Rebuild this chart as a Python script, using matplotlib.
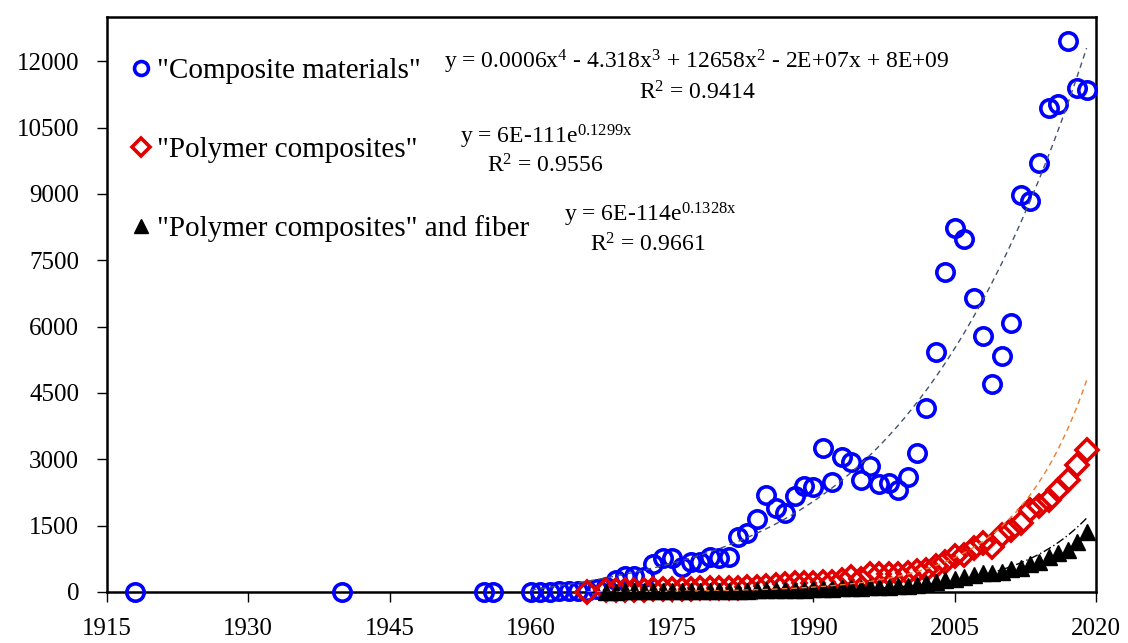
import matplotlib
matplotlib.use("Agg")
import matplotlib.pyplot as plt
import numpy as np

# data (publications per year)
cm_years = [1918, 1940, 1955, 1956] + list(range(1960, 2020))
cm_values = [
    2, 2, 3, 3,
    5, 8, 10, 12, 15, 20, 30, 60, 120, 270,            # 1960-1969
    365, 370, 345, 640, 780, 775, 575, 670, 670, 800,  # 1970-1979
    770, 790, 1250, 1340, 1640, 2195, 1910, 1785, 2170, 2400,  # 1980-1989
    2385, 3250, 2480, 3050, 2950, 2530, 2860, 2440, 2470, 2300,  # 1990-1999
    2600, 3150, 4155, 5420, 7225, 8240, 7980, 6645, 5780, 4705,  # 2000-2009
    5345, 6085, 8980, 8845, 9705, 10950, 11025, 12450, 11400, 11350,  # 2010-2019
]

pc_years = [1966] + list(range(1968, 2020))
pc_values = [
    10,
    40, 45,                                              # 1968-1969
    50, 55, 55, 60, 60, 65, 70, 75, 80, 85,              # 1970-1979
    90, 95, 100, 110, 120, 135, 150, 175, 195, 210,      # 1980-1989
    210, 230, 235, 270, 345, 285, 405, 405, 405, 400,    # 1990-1999
    420, 475, 495, 585, 685, 810, 835, 985, 1100, 1020,  # 2000-2009
    1285, 1400, 1550, 1850, 1940, 2090, 2300, 2525, 2880, 3220,  # 2010-2019
]

pf_years = list(range(1968, 2020))
pf_values = [
    8, 10,                                               # 1968-1969
    12, 13, 14, 15, 16, 18, 19, 20, 22, 24,              # 1970-1979
    26, 28, 30, 33, 36, 40, 44, 48, 52, 56,              # 1980-1989
    60, 66, 72, 80, 88, 95, 105, 110, 118, 125,          # 1990-1999
    140, 158, 196, 232, 270, 293, 346, 384, 421, 421,    # 2000-2009
    458, 512, 534, 632, 684, 797, 872, 947, 1135, 1360,  # 2010-2019
]

labels = ['"Composite materials"', '"Polymer composites"', '"Polymer composites" and fiber']

# exponential trendline coefficients as printed on the chart
pc_exp = (6e-111, 0.1299)
pf_exp = (6e-114, 0.1328)

W, H = 1128.0, 643.0
SERIF = "Liberation Serif"
plt.rcParams["font.family"] = [SERIF, "DejaVu Serif"]
plt.rcParams["mathtext.fontset"] = "custom"
plt.rcParams["mathtext.rm"] = SERIF
plt.rcParams["mathtext.it"] = SERIF + ":italic"

fig = plt.figure(figsize=(W / 100, H / 100), dpi=100)
ax = fig.add_axes([107 / W, 1 - 592 / H, 989 / W, 575 / H])

ax.plot(cm_years, cm_values, linestyle="None", marker="o", markersize=12.5,
        markerfacecolor="none", markeredgecolor="#0000FF", markeredgewidth=2.6,
        clip_on=False, zorder=3, label=labels[0])
ax.plot(pc_years, pc_values, linestyle="None", marker="D", markersize=11,
        markerfacecolor="none", markeredgecolor="#E00000", markeredgewidth=2.6,
        clip_on=False, zorder=4, label=labels[1])
ax.plot(pf_years, pf_values, linestyle="None", marker="^", markersize=11,
        color="black", clip_on=False, zorder=5, label=labels[2])

# polynomial trend for composite materials, fitted from the data
xc = np.array(cm_years, dtype=float)
coef = np.polyfit(xc - 1990, np.array(cm_values, dtype=float), 4)
xt = np.linspace(1960, 2019, 300)
ax.plot(xt, np.polyval(coef, xt - 1990), linestyle=(0, (4, 3)), color="#44546A",
        lw=1.0, zorder=6)

xt = np.linspace(1966, 2019, 300)
ax.plot(xt, pc_exp[0] * np.exp(pc_exp[1] * xt), linestyle=(0, (4, 3)),
        color="#ED7D31", lw=1.0, zorder=6)
xt = np.linspace(1968, 2019, 300)
ax.plot(xt, pf_exp[0] * np.exp(pf_exp[1] * xt), linestyle=(0, (6, 2, 1, 2)),
        color="black", lw=1.0, zorder=6)

ax.set_xlim(1915, 2020)
ax.set_ylim(0, 13000)
ax.set_xticks(range(1915, 2021, 15))
ax.set_yticks(range(0, 12001, 1500))
ax.tick_params(direction="out", length=7, width=1, labelsize=18, pad=13)
ax.tick_params(axis="x", pad=12)
for s in ax.spines.values():
    s.set_linewidth(1.8)
    s.set_color("black")

leg = ax.legend(loc="upper left", bbox_to_anchor=(0.006, 0.95), frameon=False,
                fontsize=21, handletextpad=0.0, labelspacing=1.8,
                handlelength=1.1, borderaxespad=0)
leg.legend_handles[0].set_markersize(10)
leg.legend_handles[1].set_markersize(9)
leg.legend_handles[2].set_markersize(9.5)

# trendline equations, positions in pixels from the top-left corner
eq = 17
def put(xpx, ypx, s, ha="left"):
    fig.text(xpx / W, 1 - ypx / H, s, fontsize=eq, ha=ha, va="center")

put(697, 62, "y = 0.0006x$^{4}$ - 4.318x$^{3}$ + 12658x$^{2}$ - 2E+07x + 8E+09", "center")
put(697, 93, "R$^{2}$ = 0.9414", "center")
put(460, 137, "y = 6E-111e$^{\\mathrm{0.1299x}}$")
put(545, 166, "R$^{2}$ = 0.9556", "center")
put(564, 215, "y = 6E-114e$^{\\mathrm{0.1328x}}$")
put(648, 245, "R$^{2}$ = 0.9661", "center")

fig.savefig("out.png", dpi=100)
